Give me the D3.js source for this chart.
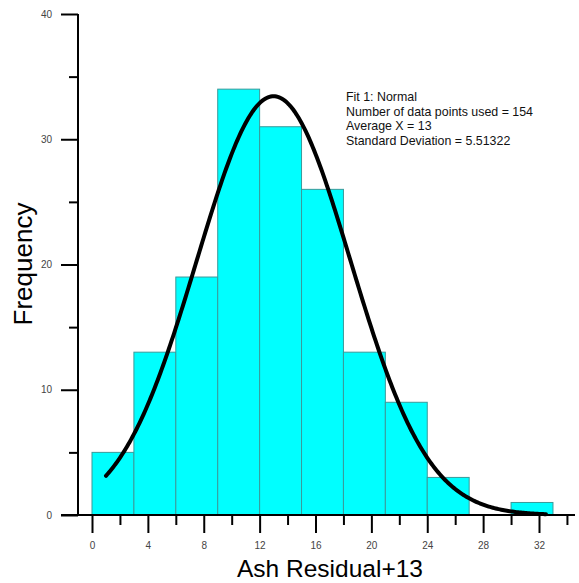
<!DOCTYPE html>
<html>
<head>
	<meta charset="utf-8">
	<title>Ash Residual Histogram</title>
</head>

<style>
	body { margin:0; background:#fff; }
	text { font-family:"Liberation Sans", Arial, sans-serif; }
</style>

<body>
<script src="https://cdn.jsdelivr.net/npm/d3@7/dist/d3.min.js" charset="utf-8"></script>
<svg width="579" height="583"></svg>
<script>

	// histogram bins (start of bin) and counts
	var binStarts = [0, 3, 6, 9, 12, 15, 18, 21, 24, 27, 30];
	var counts = [5, 13, 19, 34, 31, 26, 13, 9, 3, 0, 1];
	var binWidth = 3;

	// fit parameters
	var fitN = 154, fitMean = 13, fitSd = 5.51322;
	var fitRange = [1, 32.5];
	var fitLines = ["Fit 1: Normal",
					"Number of data points used = 154",
					"Average X = 13",
					"Standard Deviation = 5.51322"];

	var xMajor = [0, 4, 8, 12, 16, 20, 24, 28, 32];
	var xMinor = [2, 6, 10, 14, 18, 22, 26, 30, 34];
	var yMajor = [0, 10, 20, 30, 40];
	var yMinor = [5, 15, 25, 35];

	var svg = d3.select("svg");

	var x = d3.scaleLinear().domain([0, 32]).range([92, 539]);
	var y = d3.scaleLinear().domain([0, 40]).range([515, 14]);

	// bars
	svg.append("g").selectAll("rect")
		.data(binStarts.map(function(s, i){ return {x0:s, x1:s + binWidth, n:counts[i]}; })
					   .filter(function(d){ return d.n > 0; }))
		.enter()
		.append("rect")
		.attr("x", function(d){ return x(d.x0); })
		.attr("width", function(d){ return x(d.x1) - x(d.x0); })
		.attr("y", function(d){ return y(d.n); })
		.attr("height", function(d){ return y(0) - y(d.n); })
		.attr("fill", "#00ffff")
		.attr("stroke", "#3a9a9a")
		.attr("stroke-width", 1);

	// fitted normal curve
	var scale = fitN * binWidth / (fitSd * Math.sqrt(2 * Math.PI));
	var curve = d3.range(fitRange[0], fitRange[1] + 1e-6, 0.1).map(function(v){
		var z = (v - fitMean) / fitSd;
		return [v, scale * Math.exp(-0.5 * z * z)];
	});
	svg.append("path")
		.datum(curve)
		.attr("fill", "none")
		.attr("stroke", "#000")
		.attr("stroke-width", 4)
		.attr("stroke-linecap", "round")
		.attr("d", d3.line()
					 .x(function(d){ return x(d[0]); })
					 .y(function(d){ return y(d[1]); }));

	// x axis
	var gx = svg.append("g").attr("transform", "translate(0," + y(0) + ")");
	gx.call(d3.axisBottom(x).tickValues(xMajor).tickSize(18).tickPadding(9).tickFormat(d3.format("d")));
	gx.append("g").call(d3.axisBottom(x).tickValues(xMinor).tickSize(10).tickFormat(""));
	gx.selectAll(".domain").remove();
	gx.append("line").attr("x1", 61).attr("x2", 575).attr("stroke", "#000").attr("stroke-width", 2);

	// y axis
	var gy = svg.append("g").attr("transform", "translate(78,0)");
	gy.call(d3.axisLeft(y).tickValues(yMajor).tickSize(17).tickPadding(9).tickFormat(d3.format("d")));
	gy.append("g").call(d3.axisLeft(y).tickValues(yMinor).tickSize(9).tickFormat(""));
	gy.selectAll(".domain").remove();
	gy.append("line").attr("y1", y(40)).attr("y2", y(0)).attr("stroke", "#000").attr("stroke-width", 2);

	svg.selectAll(".tick line").attr("stroke", "#000").attr("stroke-width", 2);
	svg.selectAll(".tick text")
		.attr("font-family", "'Liberation Sans', Arial, sans-serif")
		.attr("font-size", 10)
		.attr("fill", "#444");

	// axis titles
	svg.append("text")
		.attr("x", 330).attr("y", 577)
		.attr("text-anchor", "middle")
		.attr("font-size", 24.5)
		.text("Ash Residual+13");

	svg.append("text")
		.attr("transform", "translate(32,264) rotate(-90)")
		.attr("text-anchor", "middle")
		.attr("font-size", 26)
		.text("Frequency");

	// fit annotation
	svg.append("g").selectAll("text")
		.data(fitLines)
		.enter()
		.append("text")
		.attr("x", 346)
		.attr("y", function(d, i){ return 101 + i * 14.5; })
		.attr("font-size", 12.4)
		.attr("fill", "#111")
		.text(function(d){ return d; });

</script>
</body>
</html>
